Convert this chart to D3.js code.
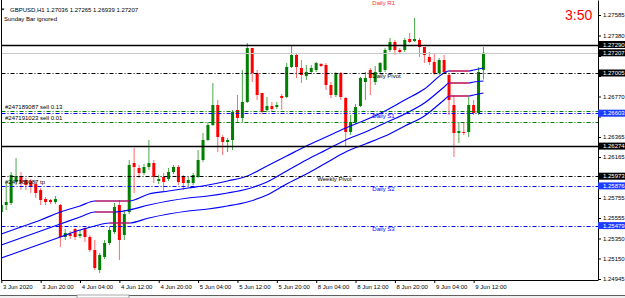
<!DOCTYPE html>
<html><head><meta charset="utf-8">
<script src="https://cdn.jsdelivr.net/npm/d3@7"></script>
<style>
html,body{margin:0;padding:0;background:#fff;overflow:hidden}
svg{display:block;font-family:"Liberation Sans",Arial,sans-serif}
</style></head><body>
<svg id="c" width="625" height="298"></svg>
<script>
// ---- data ----
const symbolTitle = "GBPUSD,H1";
const lastOHLC = ["1.27036", "1.27265", "1.26939", "1.27207"];
const subTitle = "Sunday Bar ignored";
const timerText = "3:50";
const timeLabels = ["3 Jun 2020","3 Jun 20:00","4 Jun 04:00","4 Jun 12:00","4 Jun 20:00","5 Jun 04:00","5 Jun 12:00","5 Jun 20:00","8 Jun 04:00","8 Jun 12:00","8 Jun 20:00","9 Jun 04:00","9 Jun 12:00"];
const timeLabelBars = [0,8,16,24,32,40,48,56,64,72,80,88,96];
const priceTicks = [1.27585,1.27380,1.27175,1.26975,1.26770,1.26570,1.26365,1.26165,1.25960,1.25755,1.25555,1.25350,1.25150,1.24945];

const opens = [1.25615,1.25685,1.25705,1.25915,1.25975,1.25935,1.25925,1.25895,1.25835,1.25745,
1.25735,1.25715,1.25685,1.25365,1.25395,1.25445,1.25375,1.25455,1.25365,1.25235,
1.25035,1.25165,1.25305,1.25415,1.25685,1.25385,1.25615,1.26105,1.26055,1.26005,
1.26065,1.26105,1.25925,1.25965,1.25945,1.26015,1.26065,1.25965,1.25905,1.25905,
1.25965,1.26135,1.26335,1.26485,1.26685,1.26365,1.26315,1.26335,1.26635,1.26555,
1.26715,1.27255,1.27005,1.26805,1.26635,1.26675,1.26665,1.26775,1.26765,1.27065,
1.27185,1.27055,1.26975,1.27015,1.27035,1.27095,1.27085,1.26885,1.26785,1.27005,
1.26755,1.26415,1.26515,1.26675,1.26915,1.27035,1.26915,1.27015,1.27035,1.27235,
1.27315,1.27235,1.27235,1.27345,1.27325,1.27335,1.27265,1.27165,1.27115,1.27005,
1.27135,1.26985,1.26685,1.26405,1.26415,1.26415,1.26685,1.26605,1.27036];
const highs = [1.25755,1.25905,1.26015,1.26155,1.26015,1.25955,1.25945,1.25925,1.25855,1.25765,
1.25745,1.25775,1.25695,1.25445,1.25425,1.25455,1.25435,1.25475,1.25385,1.25335,
1.25205,1.25335,1.25465,1.25705,1.25735,1.25635,1.26135,1.26255,1.26085,1.26095,
1.26335,1.26135,1.25985,1.26005,1.26055,1.26085,1.26085,1.25985,1.25965,1.26005,
1.26235,1.26405,1.26515,1.26905,1.26735,1.26385,1.26355,1.26635,1.26785,1.27035,
1.27305,1.27255,1.27035,1.26805,1.26765,1.26715,1.26715,1.26795,1.27105,1.27285,
1.27205,1.27135,1.27085,1.27085,1.27115,1.27105,1.27105,1.26915,1.27015,1.27015,
1.26765,1.26585,1.26695,1.26965,1.27015,1.27055,1.27075,1.27115,1.27255,1.27355,
1.27335,1.27255,1.27355,1.27405,1.27555,1.27355,1.27265,1.27215,1.27205,1.27155,
1.27185,1.27005,1.26785,1.26515,1.26515,1.26765,1.26735,1.27065,1.27265];
const lows = [1.25595,1.25635,1.25685,1.25885,1.25835,1.25835,1.25805,1.25755,1.25685,1.25685,
1.25695,1.25695,1.25265,1.25335,1.25345,1.25335,1.25355,1.25315,1.25215,1.25035,
1.25005,1.25145,1.25285,1.25395,1.25135,1.25335,1.25595,1.25805,1.25955,1.25985,
1.26035,1.25905,1.25895,1.25815,1.25925,1.25995,1.25885,1.25835,1.25875,1.25885,
1.25955,1.26115,1.26325,1.26475,1.26215,1.26185,1.26215,1.26235,1.26515,1.26515,
1.26705,1.26915,1.26735,1.26595,1.26615,1.26615,1.26645,1.26635,1.26755,1.27055,
1.26955,1.26905,1.26935,1.26995,1.27015,1.27065,1.26835,1.26755,1.26765,1.26735,
1.26265,1.26385,1.26495,1.26665,1.26735,1.26785,1.26885,1.26995,1.27015,1.27215,
1.27185,1.27205,1.27215,1.27305,1.27315,1.27165,1.27105,1.27085,1.26985,1.26985,
1.27005,1.26585,1.26165,1.26305,1.26385,1.26365,1.26585,1.26585,1.26939];
const closes = [1.25685,1.25715,1.25985,1.25975,1.25905,1.25885,1.25865,1.25805,1.25735,1.25715,
1.25715,1.25745,1.25365,1.25405,1.25375,1.25365,1.25395,1.25365,1.25235,1.25055,
1.25185,1.25305,1.25435,1.25665,1.25335,1.25595,1.26085,1.26065,1.26005,1.26065,
1.26105,1.25965,1.25945,1.25915,1.26015,1.26065,1.25915,1.25905,1.25935,1.25985,
1.26135,1.26335,1.26485,1.26685,1.26365,1.26315,1.26335,1.26615,1.26555,1.26715,
1.27255,1.27005,1.26785,1.26615,1.26675,1.26645,1.26685,1.26755,1.27065,1.27185,
1.27065,1.26985,1.27015,1.27055,1.27105,1.27075,1.26885,1.26785,1.27005,1.26765,
1.26415,1.26515,1.26665,1.26955,1.26955,1.26955,1.27015,1.27105,1.27235,1.27315,
1.27235,1.27215,1.27335,1.27315,1.27345,1.27265,1.27185,1.27115,1.27005,1.27135,
1.27015,1.26735,1.26405,1.26425,1.26405,1.26685,1.26605,1.27015,1.27207];

// band indicator readings (bar index -> price)
const bandBars  = [0,4,8,12,16,19,22,23,26,30,34,38,42,46,50,54,58,62,66,70,74,78,82,86,90,91,92,95,96,98];
const bandUpper = [1.25395,1.25465,1.25535,1.25615,1.25675,1.25725,1.25725,1.25725,1.25725,1.25795,1.25825,1.25855,1.25885,1.25925,1.25975,1.26075,1.26175,1.26275,1.26365,1.26455,1.26535,1.26625,1.26735,1.26845,1.27005,1.27025,1.27025,1.27025,1.27035,1.27055];
const bandMid   = [1.25285,1.25355,1.25425,1.25495,1.25565,1.25615,1.25615,1.25615,1.25635,1.25685,1.25725,1.25755,1.25775,1.25805,1.25845,1.25915,1.26025,1.26135,1.26235,1.26335,1.26415,1.26505,1.26595,1.26705,1.26865,1.26905,1.26905,1.26905,1.26915,1.26925];
const bandLower = [1.25155,1.25225,1.25295,1.25365,1.25435,1.25475,1.25505,1.25505,1.25505,1.25555,1.25595,1.25625,1.25645,1.25675,1.25715,1.25785,1.25895,1.25995,1.26105,1.26215,1.26295,1.26375,1.26475,1.26575,1.26735,1.26775,1.26775,1.26775,1.26785,1.26805];

// horizontal levels
const levelPrices = [1.27290,1.27207,1.27005,1.26628,1.26603,1.26518,1.26274,1.25973,1.25876,1.25479];
const levelKinds  = ["line","bid","pivot","order","support","order","line","pivot","support","support"];
const levelNames  = ["","","Daily Pivot","#247189087 sell 0.13","Daily S1","#247191023 sell 0.01","","Weekly Pivot","Daily S2","Daily S3"];
const tpPrice = 1.25876, tpName = "#247189087 tp";
const r1Name = "Daily R1";

// ---- drawing ----
const svg = d3.select("#c");
const FS = 6;
const plotL = 1.5, plotR = 598, plotT = 0, plotB = 280;
const x = d3.scaleLinear().domain([0, opens.length - 1]).range([1.3, 1.3 + 4.92 * (opens.length - 1)]);
const y = d3.scaleLinear().domain([1.24935, 1.27735]).range([plotB, plotT]);

svg.append("rect").attr("width", 625).attr("height", 298).attr("fill", "#fff");
svg.append("defs").append("clipPath").attr("id", "clip")
  .append("rect").attr("x", plotL).attr("y", plotT).attr("width", plotR - plotL).attr("height", plotB - plotT);
const plot = svg.append("g").attr("clip-path", "url(#clip)");

// candles
const bars = d3.range(opens.length).map(i => ({i, o: opens[i], h: highs[i], l: lows[i], c: closes[i]}));
const cg = plot.append("g");
cg.selectAll("line.wick").data(bars).join("line")
  .attr("x1", d => x(d.i)).attr("x2", d => x(d.i))
  .attr("y1", d => y(d.h)).attr("y2", d => y(d.l))
  .attr("stroke", d => d.c >= d.o ? "#4caa4c" : "#ff6a6a").attr("stroke-width", 1);
cg.selectAll("rect.body").data(bars).join("rect")
  .attr("x", d => x(d.i) - 1.5).attr("width", 3)
  .attr("y", d => y(Math.max(d.o, d.c)))
  .attr("height", d => Math.max(1, Math.abs(y(d.o) - y(d.c))))
  .attr("fill", d => d.c >= d.o ? "#008000" : "#ff0000");

// bands
const lineGen = d3.line().x(d => x(d[0])).y(d => y(d[1])).curve(d3.curveMonotoneX);
[bandUpper, bandMid, bandLower].forEach(arr => {
  const pts = bandBars.map((b, k) => [b, arr[k]]);
  plot.append("path").attr("d", lineGen(pts)).attr("fill", "none")
    .attr("stroke", "#0000ff").attr("stroke-width", 1.2);
  for (let k = 0; k + 1 < pts.length; k++) {
    if (pts[k][1] === pts[k + 1][1]) {
      plot.append("line").attr("x1", x(pts[k][0])).attr("x2", x(pts[k + 1][0]))
        .attr("y1", y(pts[k][1])).attr("y2", y(pts[k][1]))
        .attr("stroke", "#ff2020").attr("stroke-width", 1.2);
    }
  }
});

// levels
const kindStyle = {
  line:    {stroke: "#000", width: 1.5, dash: null, text: "#000"},
  bid:     {stroke: "#c8c8c8", width: 1, dash: null, text: "#000"},
  pivot:   {stroke: "#000", width: 1, dash: "4,2,1,2", text: "#000"},
  order:   {stroke: "#008000", width: 1, dash: "4,2,1,2", text: "#000"},
  support: {stroke: "#0000ff", width: 1, dash: "4,2,1,2", text: "#0000ff"}
};
levelPrices.forEach((p, k) => {
  const st = kindStyle[levelKinds[k]];
  plot.append("line").attr("x1", plotL).attr("x2", plotR)
    .attr("y1", Math.round(y(p)) + 0.5).attr("y2", Math.round(y(p)) + 0.5)
    .attr("stroke", st.stroke).attr("stroke-width", st.width)
    .attr("stroke-dasharray", st.dash);
});
// level texts
const tg = plot.append("g").attr("font-size", FS);
levelPrices.forEach((p, k) => {
  const name = levelNames[k];
  if (!name) return;
  const kind = levelKinds[k];
  const st = kindStyle[kind];
  let tx, ty, base;
  if (kind === "order") { tx = 5; ty = y(p) - 1.5; base = "auto"; }
  else if (name === "Weekly Pivot") { tx = x(64) + 1; ty = y(p) + 1; base = "hanging"; }
  else { tx = x(75) + 2; ty = y(p) + 1; base = "hanging"; }
  tg.append("text").attr("x", tx).attr("y", ty).attr("dominant-baseline", base)
    .attr("fill", st.text).text(name);
});
tg.append("text").attr("x", 5).attr("y", y(tpPrice) - 1.5).attr("fill", "#000").text(tpName);
svg.append("text").attr("x", x(75) + 2).attr("y", 0.5).attr("dominant-baseline", "hanging")
  .attr("font-size", FS).attr("fill", "#ff3030").text(r1Name);

// price label boxes (computed first to hide colliding tick labels)
const boxKinds = {line: "#000", bid: "#000", pivot: "#000", support: "#1e3cff"};
const boxYs = levelPrices.filter((p, k) => boxKinds[levelKinds[k]]).map(p => y(p));
const visibleTicks = priceTicks.filter(t => boxYs.every(by => Math.abs(y(t) - by) >= 6.5));

// axes
const yAxis = d3.axisRight(y).tickValues(priceTicks).tickFormat(d => visibleTicks.includes(d) ? d3.format(".5f")(d) : "")
  .tickSize(3).tickSizeOuter(0).tickPadding(2);
const ya = svg.append("g").attr("transform", `translate(${plotR},0)`).call(yAxis);
ya.select(".domain").attr("stroke", "#000");
ya.selectAll("text").attr("font-size", FS).attr("font-family", "Liberation Sans, Arial, sans-serif").attr("fill", "#000");
ya.selectAll(".tick").filter(d => !visibleTicks.includes(d)).select("text").remove();

const xAxis = d3.axisBottom(x).tickValues(timeLabelBars).tickFormat((d, k) => timeLabels[k]).tickSize(3).tickSizeOuter(0);
const xa = svg.append("g").attr("transform", `translate(0,${plotB})`).call(xAxis);
xa.select(".domain").attr("d", `M${plotL},0.5H${plotR}`).attr("stroke", "#000");
xa.selectAll("text").attr("font-size", FS).attr("font-family", "Liberation Sans, Arial, sans-serif")
  .attr("text-anchor", "start").attr("dx", "0.2em").attr("y", 5).attr("fill", "#000");
// left border
svg.append("line").attr("x1", plotL).attr("x2", plotL).attr("y1", 0).attr("y2", plotB).attr("stroke", "#000");

levelPrices.forEach((p, k) => {
  const col = boxKinds[levelKinds[k]];
  if (!col) return;
  const cy = y(p);
  svg.append("rect").attr("x", plotR).attr("y", cy - 3.5).attr("width", 27).attr("height", 7).attr("fill", col);
  svg.append("text").attr("x", plotR + 5).attr("y", cy).attr("dominant-baseline", "central")
    .attr("font-size", FS).attr("fill", "#fff").text(d3.format(".5f")(p));
});

// header
svg.append("path").attr("d", "M1.5,8.5 L4.5,8.5 L3,10.5 Z").attr("fill", "#000");
svg.append("text").attr("x", 10).attr("y", 9.5).attr("dominant-baseline", "central").attr("font-size", FS)
  .text(symbolTitle + "  " + lastOHLC.join(" "));
svg.append("text").attr("x", 4).attr("y", 18.7).attr("dominant-baseline", "central").attr("font-size", FS)
  .text(subTitle);
svg.append("text").attr("x", 565).attr("y", 15).attr("dominant-baseline", "central").attr("font-size", 14)
  .attr("fill", "#ff0000").text(timerText);

// bottom tab strip
svg.append("rect").attr("x", 0).attr("y", 295).attr("width", 625).attr("height", 3).attr("fill", "#f0f0f0");
svg.append("line").attr("x1", 0).attr("x2", 625).attr("y1", 295.5).attr("y2", 295.5).attr("stroke", "#606060");
svg.append("rect").attr("x", 77).attr("y", 295).attr("width", 52).attr("height", 3).attr("fill", "#fff").attr("stroke", "#808080").attr("stroke-width", 0.7);
</script>
</body></html>
